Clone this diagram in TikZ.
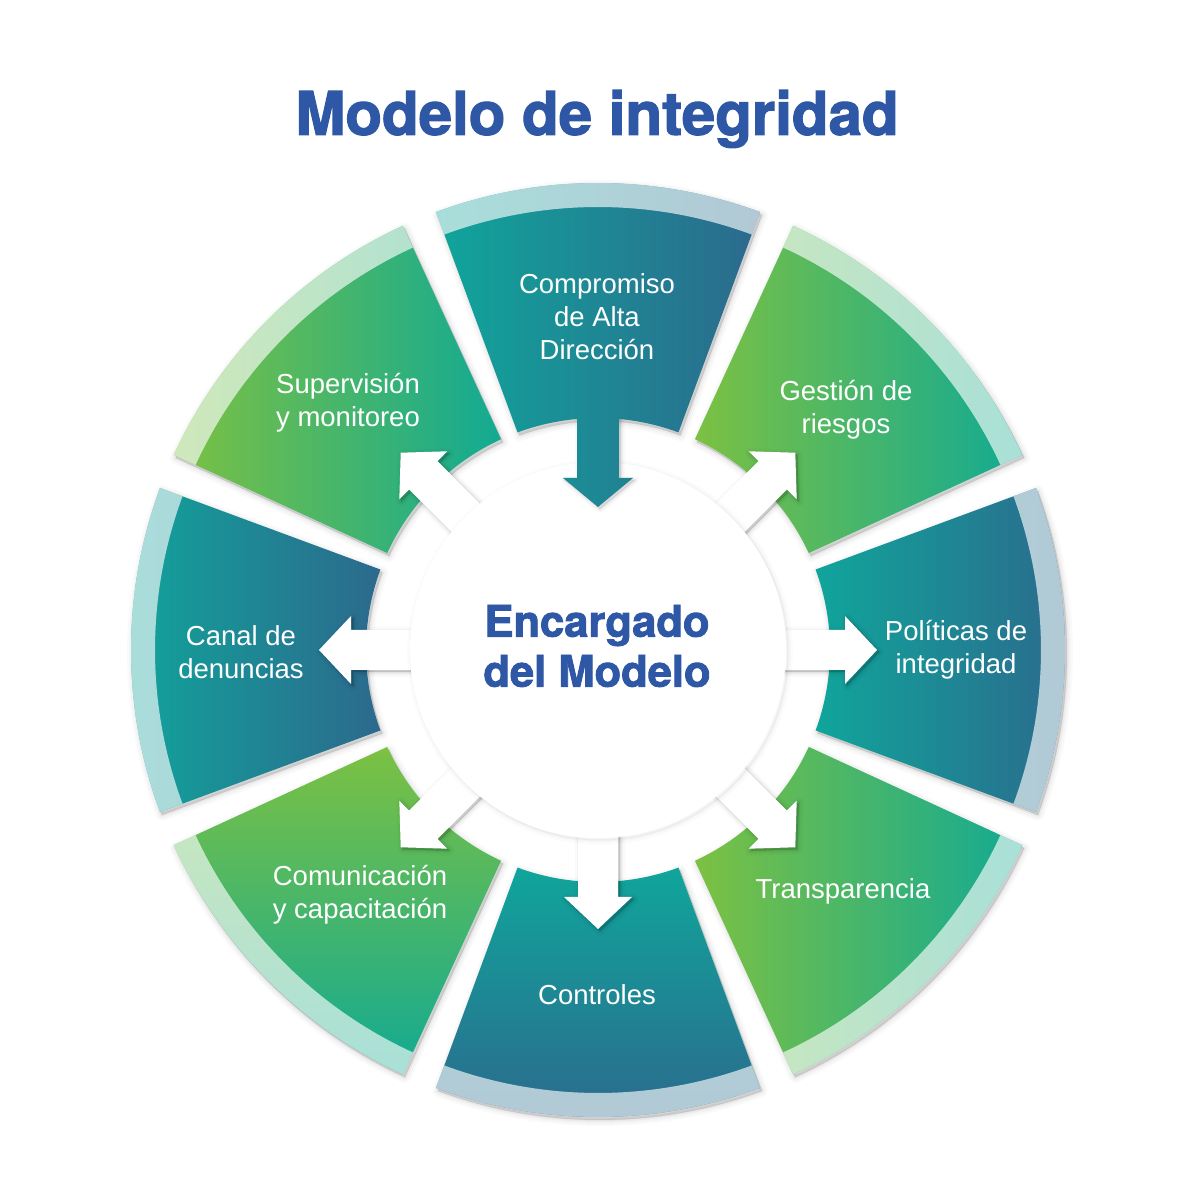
\documentclass[tikz,border=0pt]{standalone}
\usepackage{fontspec}
\setmainfont{Liberation Sans}
\newfontfamily\headfont{TeX Gyre Heros}[BoldFeatures={FakeBold=2}]
\definecolor{cTeal}{HTML}{10A59B}
\definecolor{cBlue}{HTML}{2C698D}
\definecolor{cGreen}{HTML}{7CC142}
\definecolor{cGTeal}{HTML}{12AA93}
\definecolor{cTitle}{HTML}{2E57A5}
\newcommand\sect[5]{\path[#1] ({#2-#3}:#4pt) arc[start angle={#2-#3}, end angle={#2+#3}, radius=#4pt] -- ({#2+#3}:#5pt) arc[start angle={#2+#3}, end angle={#2-#3}, radius=#5pt] -- cycle;}
\newcommand\sectshadow[1]{\foreach \w/\o in {12/0.018,8/0.025,4/0.035,1/0.05}{\sect{draw=black,fill=black,line width=\w pt,opacity=\o,line join=round,shift={(2,-3)}}{#1}{20.3}{232}{467}}}
\newcommand\wedgeband[2]{\sect{#2}{#1}{20.3}{232}{467}\sect{fill=white,fill opacity=0.64}{#1}{20.3}{443}{467}}
\newcommand\arr[2]{\path[#1, rotate=#2] (150,20) -- (247,20) -- (247,34) -- (279,0) -- (247,-34) -- (247,-20) -- (150,-20) -- cycle;}
\newcommand\arrshadow[1]{\foreach \w/\o in {10/0.02,6/0.03,3/0.04,1/0.05}{\arr{draw=black,fill=black,line width=\w pt,opacity=\o,line join=round,shift={(2,-2)}}{#1}}}
\tikzset{
  shBT/.style={left color=cTeal, right color=cBlue},
  shGT/.style={left color=cGreen, right color=cGTeal},
  shBTv/.style={top color=cTeal, bottom color=cBlue},
  shGTv/.style={top color=cGreen, bottom color=cGTeal},
  lbl/.style={text=white, align=center, inner sep=0pt, font=\fontsize{27.5}{33}\selectfont},
  head/.style={text=cTitle, align=center, inner sep=0pt}
}
\begin{document}
\begin{tikzpicture}[x=1pt,y=1pt]
\useasboundingbox (0,0) rectangle (1200,1200);
\fill[white] (0,0) rectangle (1200,1200);
\begin{scope}[shift={(598,550)}]
  % shadows of wedges
  \foreach \a in {90,45,0,-45,-90,-135,180,135}{\sectshadow{\a}}
  % wedges with bands
  \wedgeband{45}{shGT}
  \wedgeband{0}{shBT}
  \wedgeband{-45}{shGT}
  \wedgeband{-90}{shBTv}
  \wedgeband{-135}{shGTv}
  \wedgeband{180}{shBT}
  \wedgeband{135}{shGT}
  % white arrows
  \foreach \a in {45,0,-45,-90,-135,180,135}{\arrshadow{\a}}
  \foreach \a in {45,0,-45,-90,-135,180,135}{\arr{fill=white}{\a}}
  % central disc
  \foreach \w/\o in {10/0.01,6/0.014,3/0.02,1/0.03}{\draw[line width=\w pt, black, opacity=\o] (2,-2) circle[radius=188pt];}
  \fill[white] (0,0) circle[radius=188pt];
  % top wedge with inward arrow
  \foreach \w/\o in {8/0.02,5/0.03,2/0.045}{\path[draw=black,fill=black,line width=\w pt,opacity=\o,line join=round,shift={(2,-2)}] (21,236) -- (21,172) -- (35,172) -- (0,143) -- (-35,172) -- (-21,172) -- (-21,236) -- cycle;}
  \path[shBT] (69.7:232pt) arc[start angle=69.7, end angle=110.3, radius=232pt] -- (110.3:467pt) arc[start angle=110.3, end angle=69.7, radius=467pt] -- cycle
    (21,240) -- (21,172) -- (35,172) -- (0,143) -- (-35,172) -- (-21,172) -- (-21,240) -- cycle;
  \sect{fill=white,fill opacity=0.64}{90}{20.3}{443}{467}
\end{scope}
% texts
\node[head, font=\headfont\bfseries\fontsize{60}{62}\selectfont] (title) at (597,1081) {Modelo de integridad};
\node[head, font=\headfont\bfseries\fontsize{43.5}{50}\selectfont] (center) at (597,554) {Encargado\\del Modelo};
\node[lbl] (compromiso) at (597,883) {Compromiso\\de Alta\\Dirección};
\node[lbl] (gestion) at (846,790) {Gestión de\\riesgos};
\node[lbl] (politicas) at (956,550) {Políticas de\\integridad};
\node[lbl] (transparencia) at (843,309) {Transparencia};
\node[lbl] (controles) at (597,205) {Controles};
\node[lbl] (comunicacion) at (360,305) {Comunicación\\y capacitación};
\node[lbl] (canal) at (241,548) {Canal de\\denuncias};
\node[lbl] (supervision) at (348,797) {Supervisión\\y monitoreo};
\end{tikzpicture}
\end{document}
